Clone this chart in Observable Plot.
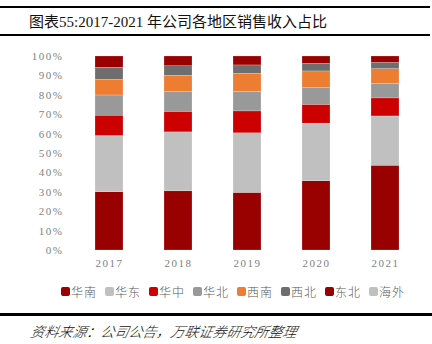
<!DOCTYPE html>
<html>
<head>
<meta charset="utf-8">
<script src="https://cdn.jsdelivr.net/npm/d3@7"></script>
<script src="https://cdn.jsdelivr.net/npm/@observablehq/plot@0.6"></script>
<style>
  html, body { margin: 0; padding: 0; background: #fff; }
  #wrap { position: relative; width: 432px; height: 344px; overflow: hidden; font-family: "Liberation Serif", "Noto Sans CJK SC", serif; }
  #title { position: absolute; left: 0; top: 6px; width: 430px; height: 26px; border-top: 2px solid #000; border-bottom: 2px solid #000; box-sizing: content-box; }
  #title span { position: absolute; left: 29px; top: 6px; font-size: 15px; line-height: 16px; color: #111; white-space: nowrap; }
  #chart { position: absolute; left: 0; top: 40px; }
  #legend { position: absolute; left: 61px; top: 285px; display: flex; }
  #legend .item { width: 44px; display: flex; align-items: center; font-size: 12px; color: #595959; letter-spacing: 1px; font-family: "Noto Sans CJK SC", sans-serif; font-weight: 300; line-height: 13px; }
  #legend .sw { width: 9px; height: 9px; border-radius: 2px; margin-right: 1px; flex: none; }
  #footer { position: absolute; left: 0; top: 313px; width: 432px; border-top: 3px solid #000; }
  #footer span { position: absolute; left: 31px; top: 5px; font-size: 14px; font-style: italic; color: #111; white-space: nowrap; font-family: "Noto Sans CJK SC", sans-serif; transform: skewX(-12deg); font-weight: 300; }
</style>
</head>
<body>
<div id="wrap">
  <div id="title"><span>图表55:2017-2021 年公司各地区销售收入占比</span></div>
  <div id="chart"></div>
  <div id="legend"></div>
  <div id="footer"><span>资料来源：公司公告，万联证券研究所整理</span></div>
</div>
<script>
const years = ["2017", "2018", "2019", "2020", "2021"];
const regions = ["华南", "华东", "华中", "华北", "西南", "西北", "东北", "海外"];
const colors = ["#990000", "#C0C0C0", "#CC0000", "#999999", "#ED7D31", "#6E6E6E", "#990000", "#C0C0C0"];
const huanan = [30.0, 30.5, 29.7, 35.7, 43.7];
const huadong = [29.0, 30.4, 30.7, 29.7, 25.4];
const huazhong = [10.5, 10.6, 11.3, 9.7, 9.3];
const huabei = [10.4, 10.1, 10.1, 8.6, 7.4];
const xinan = [8.1, 8.5, 9.3, 8.6, 7.7];
const xibei = [6.2, 4.9, 4.3, 3.9, 3.2];
const dongbei = [5.8, 5.0, 4.6, 3.8, 3.3];
const haiwai = [0, 0, 0, 0, 0];
const yTicks = [0, 10, 20, 30, 40, 50, 60, 70, 80, 90, 100];

const series = [huanan, huadong, huazhong, huabei, xinan, xibei, dongbei, haiwai];
const data = [];
regions.forEach((r, i) => years.forEach((y, j) => data.push({year: y, region: r, value: series[i][j]})));

const chart = Plot.plot({
  width: 432,
  height: 235,
  marginLeft: 73,
  marginRight: 12,
  marginTop: 16,
  marginBottom: 25,
  style: {fontFamily: "'Liberation Serif', serif", fontSize: "11px", color: "#7f7f7f", background: "transparent"},
  x: {domain: years, paddingInner: 0.6, paddingOuter: 0.3, label: null, tickSize: 0, tickPadding: 9},
  y: {domain: [0, 100], ticks: yTicks, label: null, tickSize: 0, tickPadding: 10, tickFormat: d => d + "%"},
  color: {domain: regions, range: colors},
  marks: [
    Plot.barY(data, {x: "year", y: "value", fill: "region", order: regions, stroke: "#fff", strokeWidth: 0.4, strokeOpacity: 0.5})
  ]
});
chart.querySelectorAll("g[aria-label*='tick label'] text").forEach(t => t.setAttribute("letter-spacing", "1.5"));
document.getElementById("chart").appendChild(chart);

const legend = document.getElementById("legend");
regions.forEach((r, i) => {
  const it = document.createElement("div");
  it.className = "item";
  const sw = document.createElement("div");
  sw.className = "sw";
  sw.style.background = colors[i];
  const tx = document.createElement("span");
  tx.textContent = r;
  it.appendChild(sw); it.appendChild(tx);
  legend.appendChild(it);
});
</script>
</body>
</html>
